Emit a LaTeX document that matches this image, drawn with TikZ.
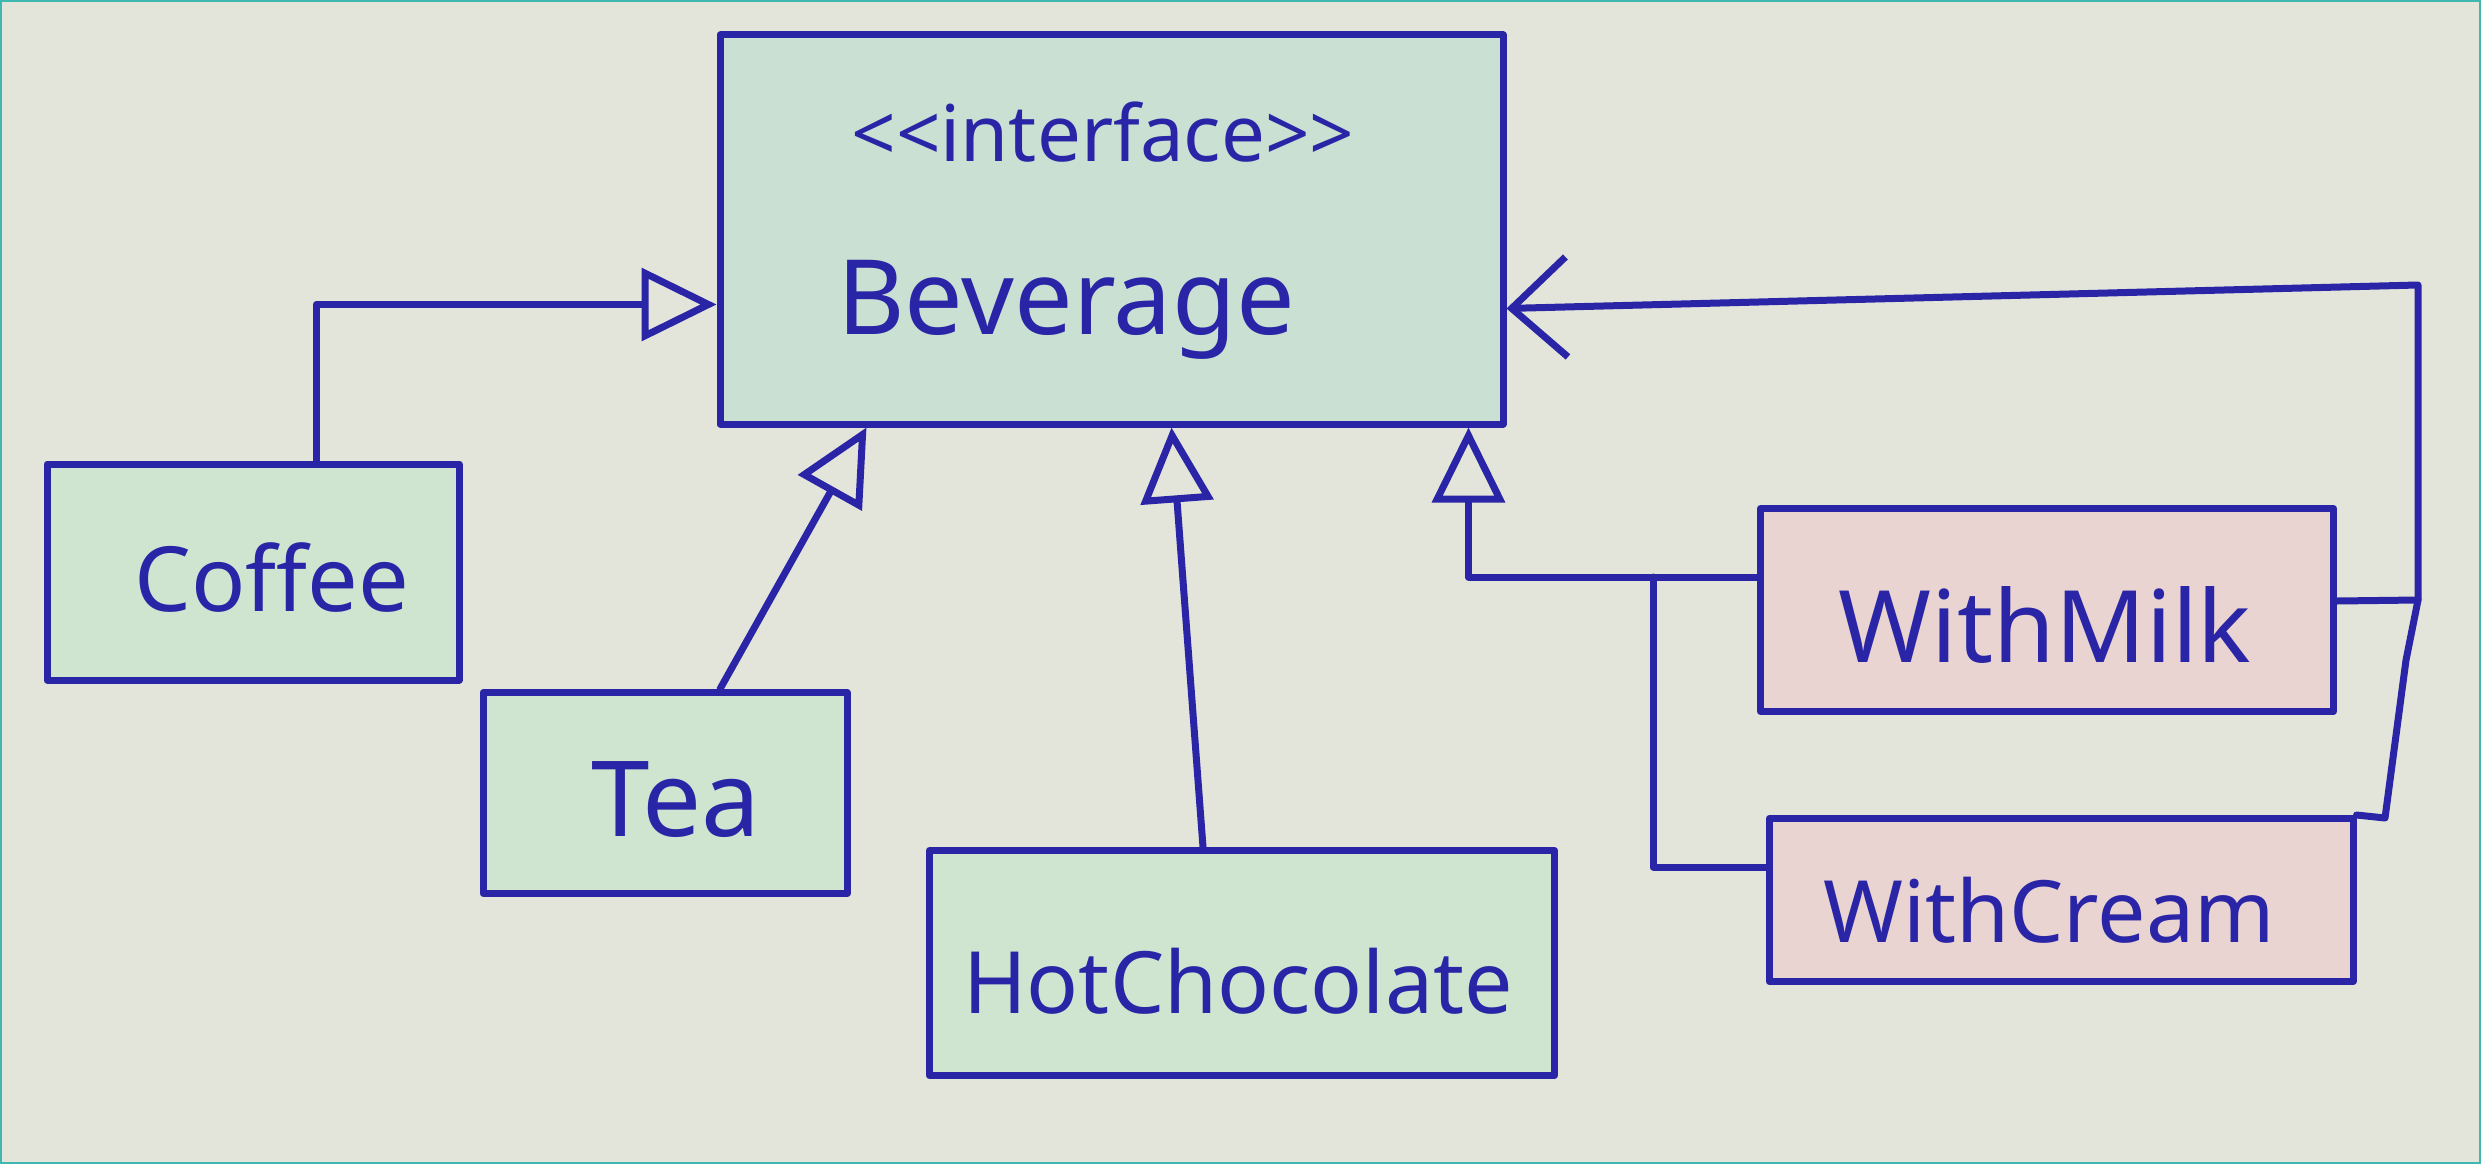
\documentclass[tikz,border=0pt]{standalone}
\usepackage{fontspec}
\setmainfont{Noto Sans}
\usetikzlibrary{arrows.meta,calc}
\definecolor{bg}{HTML}{E3E5DB}
\definecolor{ink}{HTML}{2A25A6}
\definecolor{grn}{HTML}{CFE5D0}
\definecolor{bevg}{HTML}{CAE0D2}
\definecolor{pnk}{HTML}{E9D4D1}
\definecolor{edge}{HTML}{3FB8B0}
\begin{document}
\begin{tikzpicture}[x=1pt,y=-1pt,
  line join=round, line cap=round,
  box/.style={draw=ink, line width=7pt, inner sep=0pt, text=ink,
    font=\fontsize{85}{95}\selectfont},
  txt/.style={text=ink, inner sep=0pt, font=\fontsize{90}{95}\selectfont},
  inh/.style={draw=ink, line width=7pt,
    -{Triangle[open, length=75pt, width=72pt, line width=7pt]}},
  agg/.style={draw=ink, line width=7pt,
    -{Straight Barb[length=55pt, width=100pt, line width=7pt]}},
  plain/.style={draw=ink, line width=7pt}]
\useasboundingbox (0,0) rectangle (2481,1164);
\fill[bg] (0,0) rectangle (2481,1164);
\draw[edge, line width=4pt] (0,0) rectangle (2481,1164);

% classes
\node[box, fill=bevg, minimum width=783pt, minimum height=389pt] (bev) at (1111.5,229.5) {};
\node[txt, font=\fontsize{78}{80}\selectfont] (bevst) at (1103,132) {<\kern0pt<interface>\kern0pt>};
\node[txt, font=\fontsize{104}{110}\selectfont] (bevname) at (1066,310) {Beverage};

\node[box, fill=grn, minimum width=412pt, minimum height=216pt] (coffee) at (253,572) {};
\node[txt] (coffeet) at (272,578) {Coffee};

\node[box, fill=grn, minimum width=364pt, minimum height=201pt] (tea) at (665,793) {};
\node[txt, font=\fontsize{105}{110}\selectfont] (teat) at (676,800) {Tea};

\node[box, fill=grn, minimum width=625pt, minimum height=225pt] (hot) at (1242,963) {};
\node[txt, font=\fontsize{86}{90}\selectfont] (hott) at (1238,981) {HotChocolate};

\node[box, fill=pnk, minimum width=573pt, minimum height=203pt] (wmilk) at (2047,610) {};
\node[txt, font=\fontsize{100}{105}\selectfont] (wmilkt) at (2045,625) {WithMilk};

\node[box, fill=pnk, minimum width=584pt, minimum height=163pt] (wcream) at (2061,900) {};
\node[txt, font=\fontsize{86}{90}\selectfont] (wcreamt) at (2049,910) {WithCream};

% inheritance
\draw[inh] ([xshift=63pt]coffee.north) |- ([yshift=-75pt]bev.west);
\draw[inh] ([xshift=55pt]tea.north) -- ([xshift=-245pt]bev.south);
\draw[inh] ([xshift=-39pt]hot.north) -- ([xshift=60pt]bev.south);
\draw[inh] ([yshift=33pt]wmilk.west) -| ([xshift=357pt]bev.south);
\coordinate (j) at (1653,577);
\draw[plain] ([yshift=33pt]wcream.west) -| (j);

% decorator association
\coordinate (rr) at (2418,285);
\coordinate (rm) at (2418,600);
\draw[plain] ([yshift=9pt]wmilk.east) -- (rm);
\draw[agg] (wcream.north east) -- (2385,818) -- (2406,660) -- (rm) -- (rr) -- ([yshift=-79pt]bev.east);
\end{tikzpicture}
\end{document}
